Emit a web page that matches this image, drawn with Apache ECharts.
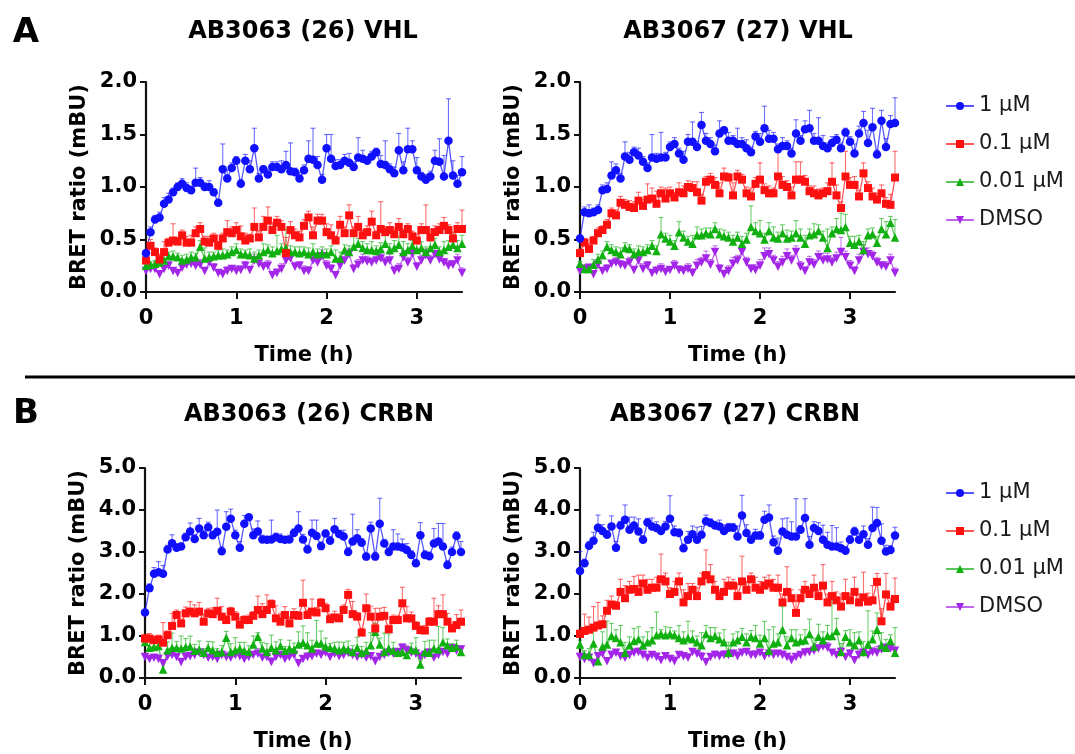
<!DOCTYPE html>
<html>
<head>
<meta charset="utf-8">
<script src="https://cdn.jsdelivr.net/npm/echarts@6.0.0/dist/echarts.min.js"></script>
<style>html,body{margin:0;padding:0;background:#fff;}#c{width:1075px;height:754px;}</style>
</head>
<body>
<div id="c"></div>
<script>
const TIME = [0,0.05,0.1,0.15,0.2,0.25,0.3,0.35,0.4,0.45,0.5,0.55,0.6,0.65,0.7,0.75,0.8,0.85,0.9,0.95,
 1,1.05,1.1,1.15,1.2,1.25,1.3,1.35,1.4,1.45,1.5,1.55,1.6,1.65,1.7,1.75,1.8,1.85,1.9,1.95,
 2,2.05,2.1,2.15,2.2,2.25,2.3,2.35,2.4,2.45,2.5,2.55,2.6,2.65,2.7,2.75,2.8,2.85,2.9,2.95,
 3,3.05,3.1,3.15,3.2,3.25,3.3,3.35,3.4,3.45,3.5];
const SERIES_NAMES = ['1 μM','0.1 μM','0.01 μM','DMSO'];
const X_TICKS = [0,1,2,3];
const TITLES = ['AB3063 (26) VHL','AB3067 (27) VHL','AB3063 (26) CRBN','AB3067 (27) CRBN'];
const PANEL_LETTERS = ['A','B'];

// ---- Panel A1: AB3063 VHL ----
const A1_blue = [0.37,0.57,0.69,0.71,0.84,0.88,0.95,1.00,1.03,0.99,
 0.97,1.04,1.04,1.00,1.00,0.95,0.85,1.17,1.08,1.18,
 1.25,1.03,1.25,1.17,1.37,1.08,1.17,1.12,1.19,1.19,
 1.17,1.21,1.15,1.14,1.08,1.16,1.27,1.26,1.21,1.07,
 1.37,1.27,1.20,1.21,1.25,1.23,1.19,1.28,1.27,1.25,
 1.29,1.33,1.22,1.21,1.17,1.13,1.35,1.16,1.36,1.36,
 1.16,1.10,1.07,1.10,1.25,1.24,1.10,1.44,1.11,1.03,
 1.14];
const A1_blue_err = [0.03,0.05,0.04,0.05,0.06,0.06,0.04,0.04,0.05,0.05,
 0.04,0.14,0.05,0.04,0.06,0.03,0.02,0.24,0.08,0.05,
 0.04,0.04,0.06,0.08,0.19,0.05,0.03,0.05,0.05,0.05,
 0.08,0.13,0.27,0.04,0.06,0.05,0.17,0.30,0.08,0.05,
 0.13,0.23,0.06,0.05,0.06,0.09,0.05,0.19,0.08,0.04,
 0.05,0.04,0.08,0.23,0.05,0.06,0.16,0.08,0.20,0.08,
 0.12,0.04,0.05,0.05,0.10,0.22,0.20,0.40,0.14,0.08,
 0.15];
const A1_red = [0.30,0.44,0.38,0.31,0.38,0.47,0.49,0.48,0.54,0.47,
 0.47,0.56,0.60,0.48,0.47,0.51,0.44,0.51,0.57,0.56,
 0.59,0.53,0.49,0.51,0.62,0.52,0.62,0.68,0.59,0.66,
 0.62,0.37,0.59,0.54,0.52,0.63,0.71,0.54,0.68,0.68,
 0.57,0.54,0.49,0.64,0.56,0.73,0.56,0.62,0.54,0.57,
 0.67,0.54,0.60,0.57,0.59,0.55,0.62,0.55,0.60,0.53,
 0.49,0.59,0.59,0.52,0.57,0.59,0.63,0.59,0.51,0.60,
 0.60];
const A1_red_err = [0.03,0.06,0.04,0.05,0.10,0.04,0.16,0.04,0.05,0.06,
 0.07,0.06,0.06,0.05,0.06,0.05,0.04,0.05,0.11,0.06,
 0.07,0.10,0.07,0.04,0.18,0.06,0.10,0.13,0.07,0.06,
 0.06,0.15,0.08,0.06,0.06,0.06,0.06,0.08,0.06,0.06,
 0.08,0.10,0.04,0.08,0.06,0.10,0.06,0.10,0.05,0.06,
 0.10,0.04,0.26,0.05,0.07,0.06,0.08,0.05,0.05,0.05,
 0.06,0.06,0.24,0.08,0.06,0.06,0.08,0.05,0.06,0.06,
 0.18];
const A1_green = [0.25,0.26,0.27,0.28,0.30,0.34,0.34,0.33,0.30,0.31,
 0.33,0.33,0.43,0.32,0.33,0.34,0.35,0.35,0.36,0.38,
 0.40,0.36,0.36,0.35,0.32,0.35,0.38,0.40,0.37,0.39,
 0.41,0.42,0.38,0.38,0.37,0.38,0.36,0.38,0.36,0.37,
 0.36,0.38,0.32,0.32,0.40,0.38,0.43,0.46,0.42,0.40,
 0.40,0.39,0.41,0.46,0.40,0.42,0.45,0.38,0.40,0.44,
 0.40,0.42,0.38,0.42,0.45,0.38,0.40,0.43,0.45,0.42,
 0.46];
const A1_green_err = [0.02,0.03,0.03,0.04,0.05,0.04,0.05,0.04,0.05,0.05,
 0.05,0.04,0.06,0.10,0.05,0.04,0.05,0.06,0.04,0.05,
 0.06,0.05,0.04,0.06,0.06,0.05,0.08,0.05,0.06,0.15,
 0.05,0.18,0.06,0.05,0.06,0.05,0.06,0.08,0.05,0.06,
 0.05,0.06,0.08,0.06,0.05,0.06,0.12,0.05,0.06,0.06,
 0.08,0.05,0.06,0.10,0.06,0.07,0.08,0.10,0.06,0.05,
 0.08,0.06,0.05,0.07,0.06,0.05,0.08,0.06,0.10,0.07,
 0.08];
const A1_purple = [0.20,0.22,0.22,0.17,0.22,0.25,0.20,0.18,0.23,0.26,
 0.27,0.25,0.26,0.20,0.28,0.23,0.18,0.17,0.20,0.22,
 0.20,0.21,0.25,0.21,0.30,0.27,0.24,0.25,0.16,0.18,
 0.22,0.30,0.32,0.24,0.25,0.20,0.20,0.30,0.28,0.34,
 0.25,0.22,0.16,0.25,0.30,0.36,0.22,0.26,0.30,0.29,
 0.28,0.30,0.32,0.28,0.30,0.20,0.22,0.33,0.28,0.36,
 0.24,0.30,0.35,0.30,0.36,0.31,0.28,0.25,0.26,0.30,
 0.18];
const A1_purple_err = [0.02,0.03,0.02,0.03,0.03,0.04,0.03,0.03,0.05,0.04,
 0.03,0.04,0.05,0.03,0.05,0.04,0.03,0.04,0.04,0.03,
 0.05,0.04,0.04,0.03,0.06,0.05,0.04,0.05,0.03,0.04,
 0.05,0.06,0.05,0.04,0.04,0.05,0.04,0.05,0.06,0.06,
 0.05,0.04,0.03,0.05,0.06,0.05,0.04,0.05,0.06,0.05,
 0.04,0.06,0.05,0.05,0.06,0.04,0.05,0.06,0.05,0.06,
 0.04,0.05,0.06,0.05,0.06,0.05,0.04,0.05,0.04,0.06,
 0.05];

// ---- Panel A2: AB3067 VHL ----
const A2_blue = [0.51,0.76,0.75,0.76,0.78,0.97,0.98,1.11,1.16,1.08,
 1.29,1.26,1.33,1.30,1.24,1.18,1.28,1.27,1.28,1.28,
 1.38,1.41,1.32,1.26,1.43,1.43,1.38,1.59,1.44,1.41,
 1.34,1.51,1.54,1.44,1.44,1.41,1.41,1.37,1.33,1.48,
 1.43,1.56,1.46,1.46,1.36,1.39,1.39,1.32,1.51,1.44,
 1.55,1.56,1.44,1.44,1.39,1.37,1.42,1.45,1.37,1.52,
 1.43,1.32,1.51,1.61,1.42,1.57,1.31,1.63,1.38,1.60,
 1.61];
const A2_blue_err = [0.03,0.05,0.08,0.04,0.05,0.05,0.06,0.13,0.06,0.05,
 0.14,0.07,0.05,0.07,0.05,0.05,0.22,0.05,0.24,0.05,
 0.05,0.06,0.05,0.08,0.07,0.19,0.05,0.12,0.07,0.06,
 0.06,0.12,0.03,0.08,0.05,0.15,0.06,0.08,0.05,0.05,
 0.08,0.21,0.08,0.06,0.05,0.08,0.05,0.05,0.13,0.05,
 0.08,0.17,0.07,0.22,0.10,0.05,0.06,0.05,0.05,0.04,
 0.05,0.09,0.07,0.11,0.12,0.18,0.04,0.10,0.08,0.08,
 0.24];
const A2_red = [0.37,0.47,0.41,0.49,0.56,0.59,0.64,0.75,0.73,0.85,
 0.83,0.81,0.80,0.87,0.82,0.88,0.89,0.84,0.94,0.89,
 0.94,0.90,0.95,0.94,1.00,0.99,0.95,0.87,1.05,1.07,
 1.02,0.94,1.10,1.09,0.92,1.10,1.07,0.94,0.91,1.03,
 1.07,0.97,0.94,0.94,1.10,1.02,1.00,0.92,1.07,1.07,
 1.05,0.96,0.94,0.92,0.94,0.96,1.05,0.92,0.80,1.10,
 1.02,1.02,0.91,1.13,0.99,0.91,0.88,0.94,0.84,0.83,
 1.09];
const A2_red_err = [0.04,0.04,0.05,0.04,0.05,0.04,0.05,0.05,0.05,0.06,
 0.05,0.06,0.06,0.08,0.06,0.15,0.10,0.12,0.06,0.10,
 0.06,0.05,0.09,0.07,0.06,0.06,0.10,0.06,0.05,0.06,
 0.07,0.10,0.08,0.04,0.12,0.06,0.05,0.06,0.08,0.06,
 0.16,0.06,0.07,0.05,0.24,0.08,0.06,0.08,0.17,0.17,
 0.06,0.05,0.07,0.06,0.05,0.08,0.18,0.10,0.06,0.24,
 0.07,0.08,0.06,0.10,0.06,0.08,0.06,0.08,0.06,0.10,
 0.25];
const A2_green = [0.27,0.22,0.22,0.26,0.31,0.35,0.43,0.40,0.38,0.36,
 0.42,0.41,0.36,0.38,0.38,0.40,0.44,0.39,0.55,0.51,
 0.48,0.44,0.57,0.52,0.48,0.46,0.54,0.54,0.56,0.55,
 0.60,0.55,0.53,0.52,0.48,0.52,0.46,0.50,0.62,0.58,
 0.56,0.50,0.58,0.52,0.51,0.56,0.51,0.52,0.56,0.52,
 0.46,0.54,0.55,0.58,0.52,0.42,0.56,0.60,0.59,0.62,
 0.47,0.45,0.48,0.40,0.54,0.55,0.47,0.60,0.55,0.66,
 0.52];
const A2_green_err = [0.02,0.04,0.03,0.05,0.05,0.04,0.05,0.05,0.05,0.06,
 0.05,0.04,0.05,0.06,0.05,0.05,0.05,0.05,0.16,0.05,
 0.06,0.05,0.10,0.06,0.05,0.08,0.08,0.06,0.05,0.06,
 0.06,0.05,0.06,0.05,0.06,0.05,0.07,0.06,0.20,0.08,
 0.12,0.06,0.08,0.10,0.06,0.08,0.08,0.06,0.12,0.08,
 0.08,0.06,0.10,0.06,0.06,0.18,0.06,0.10,0.16,0.12,
 0.06,0.08,0.06,0.08,0.06,0.06,0.06,0.10,0.12,0.06,
 0.17];
const A2_purple = [0.20,0.22,0.23,0.17,0.26,0.20,0.22,0.27,0.28,0.26,
 0.25,0.28,0.21,0.30,0.22,0.25,0.18,0.20,0.22,0.19,
 0.21,0.25,0.21,0.20,0.22,0.18,0.25,0.28,0.32,0.26,
 0.38,0.22,0.17,0.20,0.27,0.30,0.38,0.28,0.22,0.21,
 0.25,0.34,0.36,0.30,0.24,0.28,0.34,0.30,0.38,0.24,
 0.20,0.28,0.26,0.33,0.30,0.31,0.28,0.32,0.38,0.33,
 0.25,0.20,0.30,0.38,0.36,0.34,0.28,0.25,0.24,0.30,
 0.18];
const A2_purple_err = [0.02,0.03,0.03,0.02,0.04,0.03,0.04,0.03,0.05,0.04,
 0.04,0.05,0.03,0.04,0.05,0.04,0.03,0.04,0.05,0.04,
 0.03,0.05,0.04,0.04,0.05,0.04,0.06,0.05,0.07,0.05,
 0.06,0.04,0.04,0.05,0.06,0.05,0.06,0.05,0.04,0.05,
 0.06,0.08,0.06,0.05,0.05,0.06,0.07,0.05,0.06,0.05,
 0.04,0.06,0.05,0.06,0.07,0.06,0.05,0.06,0.14,0.06,
 0.05,0.04,0.06,0.07,0.06,0.05,0.05,0.04,0.05,0.06,
 0.05];

// ---- Panel B1: AB3063 CRBN ----
const B1_blue = [1.56,2.14,2.48,2.52,2.48,3.06,3.21,3.10,3.13,3.35,
 3.49,3.31,3.56,3.40,3.59,3.40,3.48,3.02,3.60,3.79,
 3.40,3.10,3.67,3.83,3.40,3.49,3.30,3.29,3.30,3.35,
 3.31,3.29,3.30,3.45,3.56,3.30,3.06,3.46,3.38,3.14,
 3.44,3.27,3.54,3.43,3.37,3.00,3.25,3.33,3.22,2.89,
 3.56,2.89,3.67,3.20,3.00,3.13,3.13,3.11,3.05,2.93,
 2.73,3.40,2.93,2.90,3.20,3.25,3.13,2.69,3.00,3.38,
 3.00];
const B1_blue_err = [0.05,0.10,0.15,0.25,0.20,0.10,0.20,0.10,0.08,0.10,
 0.20,0.10,0.24,0.12,0.12,0.10,0.52,0.10,0.36,0.23,
 0.12,0.15,0.20,0.05,0.15,0.25,0.10,0.08,0.46,0.10,
 0.12,0.08,0.10,0.10,0.40,0.12,0.10,0.30,0.38,0.10,
 0.08,0.10,0.26,0.08,0.15,0.10,0.65,0.20,0.10,0.08,
 0.15,0.10,0.61,0.10,0.12,0.40,0.30,0.20,0.15,0.10,
 0.10,0.30,0.10,0.10,0.36,0.43,0.55,0.10,0.12,0.10,
 0.25];
const B1_red = [0.94,0.94,0.90,0.92,0.84,1.02,1.24,1.50,1.30,1.54,
 1.58,1.54,1.58,1.34,1.54,1.52,1.60,1.46,1.38,1.58,
 1.46,1.27,1.38,1.38,1.48,1.62,1.52,1.62,1.76,1.42,
 1.34,1.50,1.30,1.50,1.48,1.79,1.50,1.58,1.56,1.79,
 1.66,1.40,1.44,1.42,1.62,1.98,1.52,1.46,1.08,1.66,
 1.46,1.18,1.46,1.48,1.16,1.38,1.38,1.78,1.42,1.42,
 1.24,1.14,1.13,1.34,1.34,1.52,1.52,1.34,1.18,1.26,
 1.34];
const B1_red_err = [0.10,0.12,0.08,0.10,0.48,0.10,0.30,0.12,0.10,0.15,
 0.24,0.20,0.22,0.18,0.12,0.15,0.30,0.24,0.10,0.10,
 0.12,0.15,0.10,0.12,0.10,0.33,0.25,0.36,0.10,0.30,
 0.20,0.20,0.15,0.15,0.10,0.54,0.12,0.30,0.12,0.10,
 0.12,0.12,0.15,0.10,0.12,0.13,0.30,0.10,0.10,0.34,
 0.25,0.48,0.20,0.20,0.10,0.12,0.10,0.38,0.28,0.15,
 0.10,0.10,0.12,0.10,0.56,0.20,0.46,0.20,0.10,0.25,
 0.28];
const B1_green = [0.86,0.72,0.74,0.76,0.20,0.66,0.72,0.72,0.70,0.74,
 0.75,0.65,0.68,0.60,0.72,0.66,0.60,0.62,0.96,0.62,
 0.66,0.70,0.65,0.62,0.80,0.98,0.70,0.62,0.72,0.66,
 0.76,0.65,0.70,0.68,0.80,0.84,0.78,0.70,0.82,0.82,
 0.75,0.72,0.70,0.66,0.70,0.68,0.62,0.72,0.60,0.65,
 0.78,1.10,0.80,0.62,0.70,0.65,0.60,0.62,0.55,0.68,
 0.66,0.32,0.62,0.60,0.70,0.68,0.85,0.78,0.72,0.75,
 0.62];
const B1_green_err = [0.10,0.15,0.10,0.20,0.15,0.20,0.35,0.15,0.30,0.20,
 0.25,0.15,0.20,0.10,0.15,0.20,0.10,0.15,0.15,0.20,
 0.30,0.15,0.20,0.15,0.20,0.10,0.15,0.20,0.30,0.20,
 0.15,0.10,0.20,0.15,0.30,0.40,0.30,0.20,0.55,0.30,
 0.20,0.10,0.15,0.20,0.15,0.20,0.15,0.25,0.15,0.20,
 0.30,0.20,0.15,0.45,0.35,0.20,0.10,0.15,0.20,0.15,
 0.30,0.15,0.25,0.30,0.20,0.55,0.35,0.15,0.10,0.15,
 0.10];
const B1_purple = [0.50,0.45,0.48,0.45,0.35,0.52,0.55,0.50,0.38,0.50,
 0.52,0.55,0.60,0.55,0.48,0.50,0.45,0.55,0.50,0.48,
 0.55,0.52,0.45,0.50,0.55,0.58,0.48,0.50,0.38,0.50,
 0.55,0.45,0.50,0.55,0.35,0.45,0.50,0.52,0.58,0.55,
 0.60,0.50,0.58,0.52,0.55,0.60,0.55,0.50,0.55,0.48,
 0.52,0.40,0.50,0.55,0.60,0.58,0.62,0.72,0.65,0.60,
 0.58,0.50,0.55,0.60,0.48,0.55,0.62,0.58,0.70,0.65,
 0.68];
const B1_purple_err = [0.05,0.08,0.06,0.10,0.07,0.06,0.09,0.05,0.08,0.12,
 0.06,0.10,0.08,0.05,0.07,0.10,0.06,0.09,0.12,0.07,
 0.08,0.05,0.10,0.06,0.08,0.12,0.07,0.06,0.10,0.08,
 0.05,0.09,0.12,0.06,0.08,0.07,0.10,0.06,0.08,0.11,
 0.07,0.06,0.09,0.12,0.08,0.05,0.10,0.07,0.06,0.09,
 0.08,0.12,0.06,0.07,0.10,0.08,0.05,0.09,0.12,0.07,
 0.06,0.10,0.08,0.09,0.07,0.12,0.06,0.08,0.10,0.07,
 0.09];

// ---- Panel B2: AB3067 CRBN ----
const B2_blue = [2.55,2.73,3.15,3.27,3.58,3.50,3.41,3.61,3.10,3.63,
 3.77,3.53,3.63,3.49,3.29,3.70,3.61,3.57,3.50,3.61,
 3.79,3.47,3.45,3.09,3.29,3.42,3.29,3.41,3.73,3.69,
 3.63,3.61,3.50,3.58,3.58,3.37,3.87,3.45,3.29,3.39,
 3.39,3.77,3.82,3.23,3.03,3.49,3.41,3.37,3.37,3.53,
 3.81,3.17,3.57,3.50,3.29,3.17,3.13,3.13,3.09,3.03,
 3.29,3.49,3.29,3.42,3.17,3.57,3.69,3.27,3.01,3.05,
 3.39];
const B2_blue_err = [0.46,0.10,0.10,0.20,0.30,0.15,0.10,0.25,0.15,0.10,
 0.35,0.30,0.20,0.30,0.10,0.10,0.20,0.15,0.10,0.12,
 0.55,0.15,0.10,0.10,0.20,0.20,0.30,0.20,0.15,0.10,
 0.10,0.15,0.15,0.10,0.10,0.25,0.48,0.20,0.10,0.15,
 0.10,0.20,0.30,0.15,0.30,0.30,0.40,0.35,0.90,0.10,
 0.46,0.20,0.15,0.20,0.35,0.30,0.50,0.45,0.15,0.10,
 0.10,0.10,0.15,0.20,0.15,0.50,0.37,0.40,0.15,0.10,
 0.20];
const B2_red = [1.05,1.12,1.15,1.20,1.25,1.28,1.60,1.75,1.72,2.05,
 1.90,2.10,2.12,2.05,2.25,2.10,2.15,2.15,2.35,2.30,
 2.00,2.05,2.30,1.80,1.95,2.10,1.95,2.30,2.45,2.35,
 2.10,1.95,2.05,2.20,2.20,1.95,2.30,2.10,2.35,2.15,
 2.10,2.20,2.25,2.15,2.15,1.80,2.05,1.90,1.55,1.90,
 2.10,2.00,2.15,1.95,2.20,1.80,1.95,1.85,1.70,1.95,
 1.85,2.05,1.80,1.92,1.82,1.85,2.29,1.35,1.99,1.70,
 1.88];
const B2_red_err = [0.10,0.40,0.30,0.50,0.55,0.20,0.25,0.20,0.10,0.30,
 0.30,0.20,0.30,0.40,0.20,0.25,0.20,0.25,0.60,0.20,
 0.15,0.25,0.20,0.30,0.30,0.15,0.20,0.20,0.60,0.35,
 0.20,0.15,0.30,0.20,0.15,0.30,0.60,0.20,0.15,0.25,
 0.20,0.20,0.20,0.20,0.30,0.20,0.60,0.20,0.30,0.20,
 0.20,0.15,0.30,0.15,0.50,0.20,0.35,0.20,0.30,0.40,
 0.15,0.35,0.20,0.60,0.20,0.35,0.20,0.30,0.50,0.20,
 0.50];
const B2_green = [0.80,0.55,0.55,0.82,0.40,0.75,0.80,1.00,0.95,0.85,
 0.60,0.78,0.88,0.92,0.78,0.85,0.90,1.02,1.05,1.02,
 1.05,1.02,0.95,0.90,0.95,0.92,0.85,0.78,1.05,0.95,
 1.00,0.92,0.85,0.60,0.85,0.90,0.98,0.85,0.98,0.95,
 0.82,0.95,0.65,0.82,0.85,1.15,0.78,0.95,0.85,0.88,
 0.90,1.05,0.75,0.98,0.90,1.00,1.00,1.12,0.62,0.98,
 0.85,0.78,0.90,0.62,0.80,0.92,1.15,0.78,0.72,0.88,
 0.60];
const B2_green_err = [0.10,0.10,0.15,0.40,0.20,0.35,0.55,0.30,0.20,0.40,
 0.25,0.20,0.30,0.30,0.20,0.25,0.30,0.55,0.10,0.20,
 0.15,0.10,0.30,0.20,0.40,0.20,0.15,0.30,0.20,0.25,
 0.20,0.15,0.30,0.25,0.20,0.20,0.20,0.20,0.15,0.30,
 0.20,0.40,0.50,0.40,0.20,0.55,0.20,0.20,0.30,0.15,
 0.25,0.35,0.20,0.30,0.20,0.25,0.90,0.30,0.20,0.15,
 0.30,0.30,0.20,0.25,0.80,0.20,0.40,0.30,0.20,0.15,
 0.60];
const B2_purple = [0.50,0.45,0.48,0.35,0.52,0.58,0.40,0.55,0.60,0.52,
 0.48,0.55,0.60,0.62,0.55,0.48,0.55,0.50,0.42,0.52,
 0.45,0.40,0.55,0.52,0.48,0.62,0.58,0.50,0.38,0.50,
 0.55,0.52,0.55,0.55,0.58,0.52,0.60,0.62,0.55,0.55,
 0.60,0.52,0.58,0.55,0.58,0.55,0.50,0.42,0.50,0.55,
 0.60,0.62,0.65,0.70,0.75,0.72,0.60,0.55,0.62,0.50,
 0.58,0.42,0.55,0.60,0.55,0.62,0.60,0.68,0.72,0.70,
 0.65];
const B2_purple_err = [0.06,0.08,0.05,0.10,0.07,0.12,0.06,0.09,0.08,0.05,
 0.10,0.07,0.06,0.09,0.12,0.08,0.06,0.10,0.07,0.05,
 0.09,0.12,0.06,0.08,0.10,0.07,0.06,0.11,0.08,0.05,
 0.09,0.07,0.10,0.06,0.08,0.12,0.07,0.06,0.09,0.10,
 0.08,0.05,0.07,0.11,0.06,0.09,0.08,0.12,0.07,0.06,
 0.10,0.08,0.05,0.09,0.07,0.12,0.06,0.08,0.10,0.07,
 0.09,0.06,0.12,0.08,0.07,0.10,0.15,0.08,0.06,0.09,
 0.07];

// ---- build ----
const FONT = 'DejaVu Sans';
const STYLE = {
  '1 μM':    {color:'#1010ff', symbol:'circle',   size:8.5, rot:0},
  '0.1 μM':  {color:'#ff1010', symbol:'rect',     size:8,   rot:0},
  '0.01 μM': {color:'#10b010', symbol:'triangle', size:8.5, rot:0},
  'DMSO':    {color:'#a326e8', symbol:'triangle', size:8.5, rot:180}
};
const PANELS = [
  {vals:{'1 μM':A1_blue,'0.1 μM':A1_red,'0.01 μM':A1_green,'DMSO':A1_purple},
   errs:{'1 μM':A1_blue_err,'0.1 μM':A1_red_err,'0.01 μM':A1_green_err,'DMSO':A1_purple_err}},
  {vals:{'1 μM':A2_blue,'0.1 μM':A2_red,'0.01 μM':A2_green,'DMSO':A2_purple},
   errs:{'1 μM':A2_blue_err,'0.1 μM':A2_red_err,'0.01 μM':A2_green_err,'DMSO':A2_purple_err}},
  {vals:{'1 μM':B1_blue,'0.1 μM':B1_red,'0.01 μM':B1_green,'DMSO':B1_purple},
   errs:{'1 μM':B1_blue_err,'0.1 μM':B1_red_err,'0.01 μM':B1_green_err,'DMSO':B1_purple_err}},
  {vals:{'1 μM':B2_blue,'0.1 μM':B2_red,'0.01 μM':B2_green,'DMSO':B2_purple},
   errs:{'1 μM':B2_blue_err,'0.1 μM':B2_red_err,'0.01 μM':B2_green_err,'DMSO':B2_purple_err}}
];
const GRIDS = [
  {left:146, top:82, width:316, height:210},
  {left:580, top:82, width:315, height:210},
  {left:145, top:468, width:316, height:210},
  {left:580, top:468, width:315, height:210}
];
const YMAX = [2, 2, 5, 5];
const YINT = [0.5, 0.5, 1, 1];

const axisCommon = {
  axisLine:{show:true, lineStyle:{color:'#111', width:2.2}},
  axisTick:{show:true, length:6, lineStyle:{color:'#111', width:2}},
  splitLine:{show:false},
  nameTextStyle:{fontFamily:FONT, fontWeight:'bold', fontSize:21, color:'#000'}
};

const xAxes = GRIDS.map((g,i)=>Object.assign({}, axisCommon, {
  type:'value', gridIndex:i, min:0, max:3.5, interval:1,
  axisTick:{show:true, length:7, lineStyle:{color:'#111', width:2}, customValues:X_TICKS},
  axisLabel:{fontFamily:FONT, fontWeight:'bold', fontSize:21, color:'#000',
    margin:8, lineHeight:38, showMaxLabel:false,
    formatter:v=>(X_TICKS.indexOf(v) >= 0 ? String(v) : '')},
  name:'Time (h)', nameLocation:'middle', nameGap:53, nameMoveOverlap:false
}));
const yAxes = GRIDS.map((g,i)=>Object.assign({}, axisCommon, {
  type:'value', gridIndex:i, min:0, max:YMAX[i], interval:YINT[i],
  axisLabel:{fontFamily:FONT, fontWeight:'bold', fontSize:21, color:'#000', margin:9,
    formatter:v=>v.toFixed(1)},
  name:'BRET ratio (mBU)', nameLocation:'middle', nameGap:56
}));

const series = [];
const drawOrder = ['DMSO','0.01 μM','0.1 μM','1 μM'];
PANELS.forEach((p,gi)=>{
  drawOrder.forEach(name=>{
    const st = STYLE[name];
    const vals = p.vals[name], errs = p.errs[name];
    series.push({
      type:'custom', name:name+' error', xAxisIndex:gi, yAxisIndex:gi, z:1, silent:true,
      data: TIME.map((t,k)=>[t, vals[k], errs[k]]),
      encode:{x:0, y:1},
      renderItem:function(params, api){
        const x = api.value(0), y = api.value(1), e = api.value(2);
        const p0 = api.coord([x,y]), p1 = api.coord([x,y+e]);
        const s = {stroke:st.color, lineWidth:1.1, opacity:0.6};
        return {type:'group', children:[
          {type:'line', shape:{x1:p0[0],y1:p0[1],x2:p1[0],y2:p1[1]}, style:s},
          {type:'line', shape:{x1:p1[0]-2.5,y1:p1[1],x2:p1[0]+2.5,y2:p1[1]}, style:s}
        ]};
      }
    });
    series.push({
      type:'line', name:name, xAxisIndex:gi, yAxisIndex:gi, z:2,
      data: TIME.map((t,k)=>[t, vals[k]]),
      symbol:st.symbol, symbolSize:st.size, symbolRotate:st.rot, showSymbol:true,
      itemStyle:{color:st.color, opacity:1},
      lineStyle:{color:st.color, width:1.3, opacity:0.7},
      emphasis:{disabled:true}
    });
  });
});

const legendCommon = {
  data:SERIES_NAMES, orient:'vertical', left:940, itemWidth:28, itemHeight:10, itemGap:16,
  textStyle:{fontFamily:FONT, fontSize:21, color:'#1a1a1a', lineHeight:22}
};

const titlePos = [[303,32],[738,32],[309,415],[735,415]];
const graphic = [];
TITLES.forEach((t,i)=>{
  graphic.push({type:'text', x:titlePos[i][0], y:titlePos[i][1],
    style:{text:t, font:'bold 24px "DejaVu Sans"', fill:'#000', align:'center', verticalAlign:'middle',
      textAlign:'center', textVerticalAlign:'middle'}});
});
[[26,33],[26,414]].forEach((pos,i)=>{
  graphic.push({type:'text', x:pos[0], y:pos[1],
    style:{text:PANEL_LETTERS[i], font:'bold 34px "DejaVu Sans"', fill:'#000', align:'center', verticalAlign:'middle',
      textAlign:'center', textVerticalAlign:'middle'}});
});
graphic.push({type:'line', shape:{x1:25,y1:377,x2:1075,y2:377}, style:{stroke:'#000', lineWidth:3}});

const chart = echarts.init(document.getElementById('c'));
chart.setOption({
  animation:false,
  backgroundColor:'#fff',
  grid:GRIDS,
  xAxis:xAxes,
  yAxis:yAxes,
  legend:[Object.assign({top:90}, legendCommon), Object.assign({top:477}, legendCommon)],
  graphic:graphic,
  series:series
});
</script>
</body>
</html>
